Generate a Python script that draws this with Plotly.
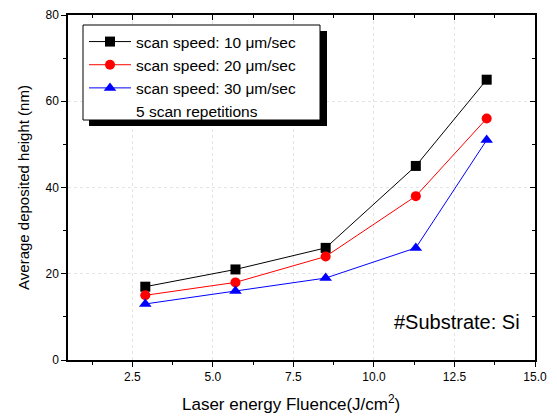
import plotly.graph_objects as go

fluence = [2.9, 5.7, 8.5, 11.3, 13.5]
height_10 = [17, 21, 26, 45, 65]
height_20 = [15, 18, 24, 38, 56]
height_30 = [13, 16, 19, 26, 51]
series_names = ["scan speed: 10 μm/sec", "scan speed: 20 μm/sec", "scan speed: 30 μm/sec"]
note_name = "5 scan repetitions"
x_title = "Laser energy Fluence(J/cm<sup>2</sup>)"
y_title = "Average deposited height (nm)"
substrate_text = "#Substrate: Si"

FONT = "Arial, Liberation Sans, sans-serif"
OFF = 8  # default page body margin
W, H = 557 - OFF, 416 - OFF
ML, MR, MT, MB = 68 - OFF, 22, 15 - OFF, 56
PW, PH = W - ML - MR, H - MT - MB


def px(x):
    # screenshot pixel x -> paper coordinate
    return (x - OFF - ML) / PW


def py(y):
    # screenshot pixel y -> paper coordinate
    return (OFF + H - MB - y) / PH


fig = go.Figure()
fig.add_trace(go.Scatter(x=fluence, y=height_10, name=series_names[0], mode="lines+markers",
                         line=dict(color="black", width=1),
                         marker=dict(symbol="square", size=10, color="black")))
fig.add_trace(go.Scatter(x=fluence, y=height_20, name=series_names[1], mode="lines+markers",
                         line=dict(color="red", width=1),
                         marker=dict(symbol="circle", size=10, color="red")))
fig.add_trace(go.Scatter(x=fluence, y=height_30, name=series_names[2], mode="lines+markers",
                         line=dict(color="blue", width=1),
                         marker=dict(symbol="triangle-up", size=11, color="blue")))
fig.add_trace(go.Scatter(x=[None], y=[None], name=note_name, mode="lines",
                         line=dict(color="rgba(0,0,0,0)", width=1)))

axis_common = dict(showline=True, linecolor="black", linewidth=1.5, zeroline=False,
                   showgrid=True, gridcolor="#e4e4e4", griddash="dot", gridwidth=1,
                   tickfont=dict(family=FONT, size=12, color="black"),
                   ticks="outside", ticklen=5, tickwidth=1, tickcolor="black", automargin=False)

fig.update_layout(
    width=W, height=H,
    margin=dict(l=ML, r=MR, t=MT, b=MB, autoexpand=False),
    paper_bgcolor="white", plot_bgcolor="white",
    font=dict(family=FONT, color="black"),
    xaxis=dict(range=[0.5, 15], tick0=2.5, dtick=2.5, tickformat=".1f",
               minor=dict(ticks="outside", ticklen=3, dtick=1.25, tick0=0, tickcolor="black", showgrid=False),
               **axis_common),
    yaxis=dict(range=[0, 80], tick0=0, dtick=20,
               minor=dict(ticks="outside", ticklen=3, dtick=10, tickcolor="black", showgrid=False),
               title=dict(text=y_title, font=dict(family=FONT, size=15), standoff=12),
               **axis_common),
    xaxis2=dict(overlaying="x", side="top", range=[0.5, 15], tick0=2.5, dtick=2.5,
                showline=True, linecolor="black", linewidth=1.5, showticklabels=False,
                showgrid=False, zeroline=False, ticks="inside", ticklen=5, tickcolor="black", automargin=False,
                minor=dict(ticks="inside", ticklen=3, dtick=1.25, tick0=0, tickcolor="black")),
    yaxis2=dict(overlaying="y", side="right", range=[0, 80], tick0=0, dtick=20,
                showline=True, linecolor="black", linewidth=1.5, showticklabels=False,
                showgrid=False, zeroline=False, ticks="inside", ticklen=5, tickcolor="black", automargin=False,
                minor=dict(ticks="inside", ticklen=3, dtick=10, tickcolor="black")),
    legend=dict(x=px(84), y=py(25), xanchor="left", yanchor="top",
                bgcolor="rgba(0,0,0,0)", borderwidth=0,
                font=dict(family=FONT, size=15.5, color="black"),
                tracegroupgap=0, itemwidth=42),
    showlegend=True,
)
fig.add_trace(go.Scatter(x=[None], y=[None], xaxis="x2", yaxis="y2", showlegend=False, hoverinfo="skip"))

# legend frame with drop shadow
fig.add_shape(type="rect", xref="paper", yref="paper",
              x0=px(89), x1=px(327), y0=py(126), y1=py(31),
              fillcolor="black", line=dict(width=0), layer="above")
fig.add_shape(type="rect", xref="paper", yref="paper",
              x0=px(83), x1=px(320), y0=py(120), y1=py(25),
              fillcolor="white", line=dict(color="black", width=1), layer="above")

fig.add_annotation(text=substrate_text, xref="paper", yref="paper",
                   x=px(522), y=py(322), xanchor="right", yanchor="middle",
                   showarrow=False, font=dict(family=FONT, size=20, color="black"))

fig.add_annotation(text=x_title, xref="paper", yref="paper",
                   x=px(291), y=py(403), xanchor="center", yanchor="middle",
                   showarrow=False, font=dict(family=FONT, size=17, color="black"))

fig.write_html("out.html")
